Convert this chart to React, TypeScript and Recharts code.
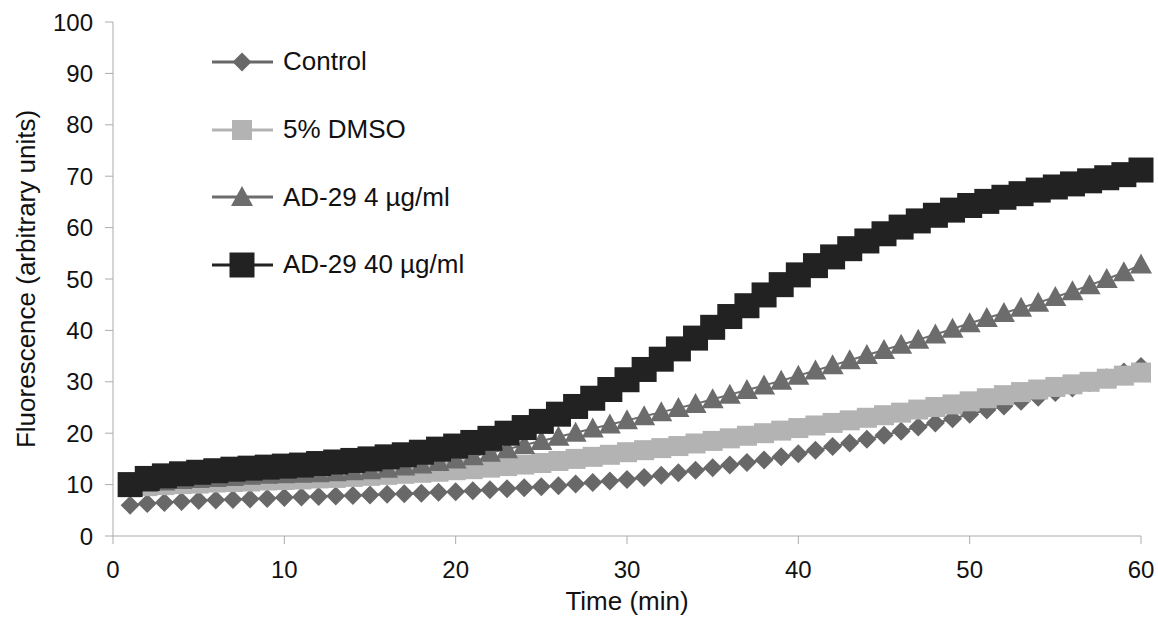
import React from 'react'
import { LineChart, Line, XAxis, YAxis } from 'recharts'

const minutes = [
  1, 2, 3, 4, 5, 6, 7, 8, 9, 10, 11, 12, 13, 14, 15, 16, 17, 18, 19, 20,
  21, 22, 23, 24, 25, 26, 27, 28, 29, 30, 31, 32, 33, 34, 35, 36, 37, 38, 39, 40,
  41, 42, 43, 44, 45, 46, 47, 48, 49, 50, 51, 52, 53, 54, 55, 56, 57, 58, 59, 60,
]

const control = [
  6.0, 6.3, 6.5, 6.7, 6.9, 7.0, 7.1, 7.2, 7.3, 7.5, 7.6, 7.7, 7.8, 7.9, 8.0, 8.1, 8.2, 8.3, 8.5, 8.6,
  8.8, 9.0, 9.2, 9.4, 9.6, 9.8, 10.1, 10.4, 10.7, 11.0, 11.4, 11.8, 12.3, 12.8, 13.3, 13.8, 14.3, 14.8, 15.4, 16.0,
  16.7, 17.4, 18.1, 18.8, 19.6, 20.4, 21.2, 22.0, 22.8, 23.7, 24.5, 25.3, 26.2, 27.0, 27.9, 28.8, 29.8, 30.8, 31.9, 33.0,
]

const dmso = [
  9.5, 9.7, 9.9, 10.1, 10.2, 10.4, 10.5, 10.6, 10.8, 10.9, 11.0, 11.2, 11.3, 11.5, 11.7, 11.9, 12.1, 12.3, 12.5, 12.8,
  13.0, 13.3, 13.6, 13.9, 14.2, 14.6, 15.0, 15.4, 15.8, 16.3, 16.7, 17.1, 17.5, 18.0, 18.5, 19.0, 19.5, 20.0, 20.5, 21.0,
  21.5, 22.0, 22.5, 23.0, 23.5, 24.0, 24.6, 25.1, 25.6, 26.2, 26.8, 27.4, 28.0, 28.5, 29.0, 29.5, 30.0, 30.6, 31.2, 31.8,
]

const ad4 = [
  9.8, 10.3, 10.6, 10.9, 11.1, 11.3, 11.5, 11.7, 11.9, 12.0, 12.1, 12.2, 12.4, 12.6, 12.8, 13.1, 13.5, 13.9, 14.4, 14.9,
  15.5, 16.2, 16.9, 17.7, 18.5, 19.3, 20.1, 20.9, 21.7, 22.5, 23.3, 24.1, 24.9, 25.7, 26.6, 27.5, 28.4, 29.3, 30.2, 31.2,
  32.2, 33.2, 34.2, 35.2, 36.2, 37.2, 38.2, 39.2, 40.3, 41.4, 42.4, 43.4, 44.4, 45.4, 46.5, 47.6, 48.8, 50.0, 51.3, 52.8,
]

const ad40 = [
  10.0, 11.2, 11.7, 12.1, 12.4, 12.7, 13.0, 13.2, 13.4, 13.6, 13.8, 14.1, 14.4, 14.7, 15.0, 15.4, 15.8, 16.3, 16.9, 17.5,
  18.2, 19.0, 20.0, 21.1, 22.3, 23.7, 25.2, 26.8, 28.5, 30.4, 32.4, 34.4, 36.4, 38.5, 40.6, 42.7, 44.8, 46.9, 48.9, 50.8,
  52.6, 54.3, 55.9, 57.4, 58.8, 60.1, 61.3, 62.4, 63.4, 64.3, 65.1, 65.9, 66.6, 67.3, 67.9, 68.5, 69.1, 69.7, 70.3, 71.2,
]

const xTicks = [0, 10, 20, 30, 40, 50, 60]
const yTicks = [0, 10, 20, 30, 40, 50, 60, 70, 80, 90, 100]

const data = minutes.map((t, i) => ({
  t,
  control: control[i],
  dmso: dmso[i],
  ad4: ad4[i],
  ad40: ad40[i],
}))

const FONT = '"Liberation Sans", Arial, sans-serif'

function Marker({ shape, cx, cy, fill }: { shape: string; cx: number; cy: number; fill: string }) {
  if (cx == null || cy == null) return null
  if (shape === 'diamond') {
    const r = 9.5
    return <polygon points={`${cx},${cy - r} ${cx + r},${cy} ${cx},${cy + r} ${cx - r},${cy}`} fill={fill} />
  }
  if (shape === 'triangle') {
    return <polygon points={`${cx},${cy - 11} ${cx + 11},${cy + 9} ${cx - 11},${cy + 9}`} fill={fill} />
  }
  if (shape === 'bigsquare') {
    return <rect x={cx - 12.5} y={cy - 12.5} width={25} height={25} fill={fill} />
  }
  return <rect x={cx - 10} y={cy - 10} width={20} height={20} fill={fill} />
}

const series = [
  { key: 'control', name: 'Control', color: '#686868', shape: 'diamond' },
  { key: 'dmso', name: '5% DMSO', color: '#b3b3b3', shape: 'square' },
  { key: 'ad4', name: 'AD-29 4 µg/ml', color: '#6c6c6c', shape: 'triangle' },
  { key: 'ad40', name: 'AD-29 40 µg/ml', color: '#222222', shape: 'bigsquare' },
]

// legend sits inside the plot, top-left, like the original figure
function LegendBox() {
  return (
    <div style={{ position: 'absolute', left: 212, top: 28, fontFamily: FONT, fontSize: 26, color: '#111' }}>
      {series.map((s) => (
        <div key={s.key} style={{ display: 'flex', alignItems: 'center', height: 67.7 }}>
          <svg width={71} height={30}>
            <line x1={0} y1={15} x2={61} y2={15} stroke={s.color} strokeWidth={3} />
            <Marker shape={s.shape} cx={30} cy={15} fill={s.color} />
          </svg>
          <span>{s.name}</span>
        </div>
      ))}
    </div>
  )
}

export default function App() {
  return (
    <div style={{ position: 'absolute', left: 0, top: 0, width: 1158, height: 617, background: '#fff' }}>
      <LineChart width={1158} height={617} data={data} margin={{ top: 22, right: 17, left: 30, bottom: 0 }}>
        <XAxis
          dataKey="t"
          type="number"
          domain={[0, 60]}
          ticks={xTicks}
          tickSize={8}
          tickMargin={17}
          stroke="#ababab"
          height={81}
          tick={{ fill: '#111', fontSize: 24, fontFamily: FONT }}
          label={{ value: 'Time (min)', position: 'insideBottom', offset: 7, fill: '#111', fontSize: 26, fontFamily: FONT }}
        />
        <YAxis
          domain={[0, 100]}
          ticks={yTicks}
          tickSize={8}
          tickMargin={12}
          width={83}
          stroke="#ababab"
          tick={{ fill: '#111', fontSize: 24, fontFamily: FONT }}
          label={{
            value: 'Fluorescence (arbitrary units)',
            angle: -90,
            position: 'insideLeft',
            offset: -4,
            style: { textAnchor: 'middle' },
            fill: '#111',
            fontSize: 26,
            fontFamily: FONT,
          }}
        />
        {series.map((s) => (
          <Line
            key={s.key}
            dataKey={s.key}
            name={s.name}
            stroke={s.color}
            strokeWidth={2}
            isAnimationActive={false}
            dot={(p: any) => <Marker key={`${s.key}-${p.index}`} shape={s.shape} cx={p.cx} cy={p.cy} fill={s.color} />}
            activeDot={false}
          />
        ))}
      </LineChart>
      <LegendBox />
    </div>
  )
}
